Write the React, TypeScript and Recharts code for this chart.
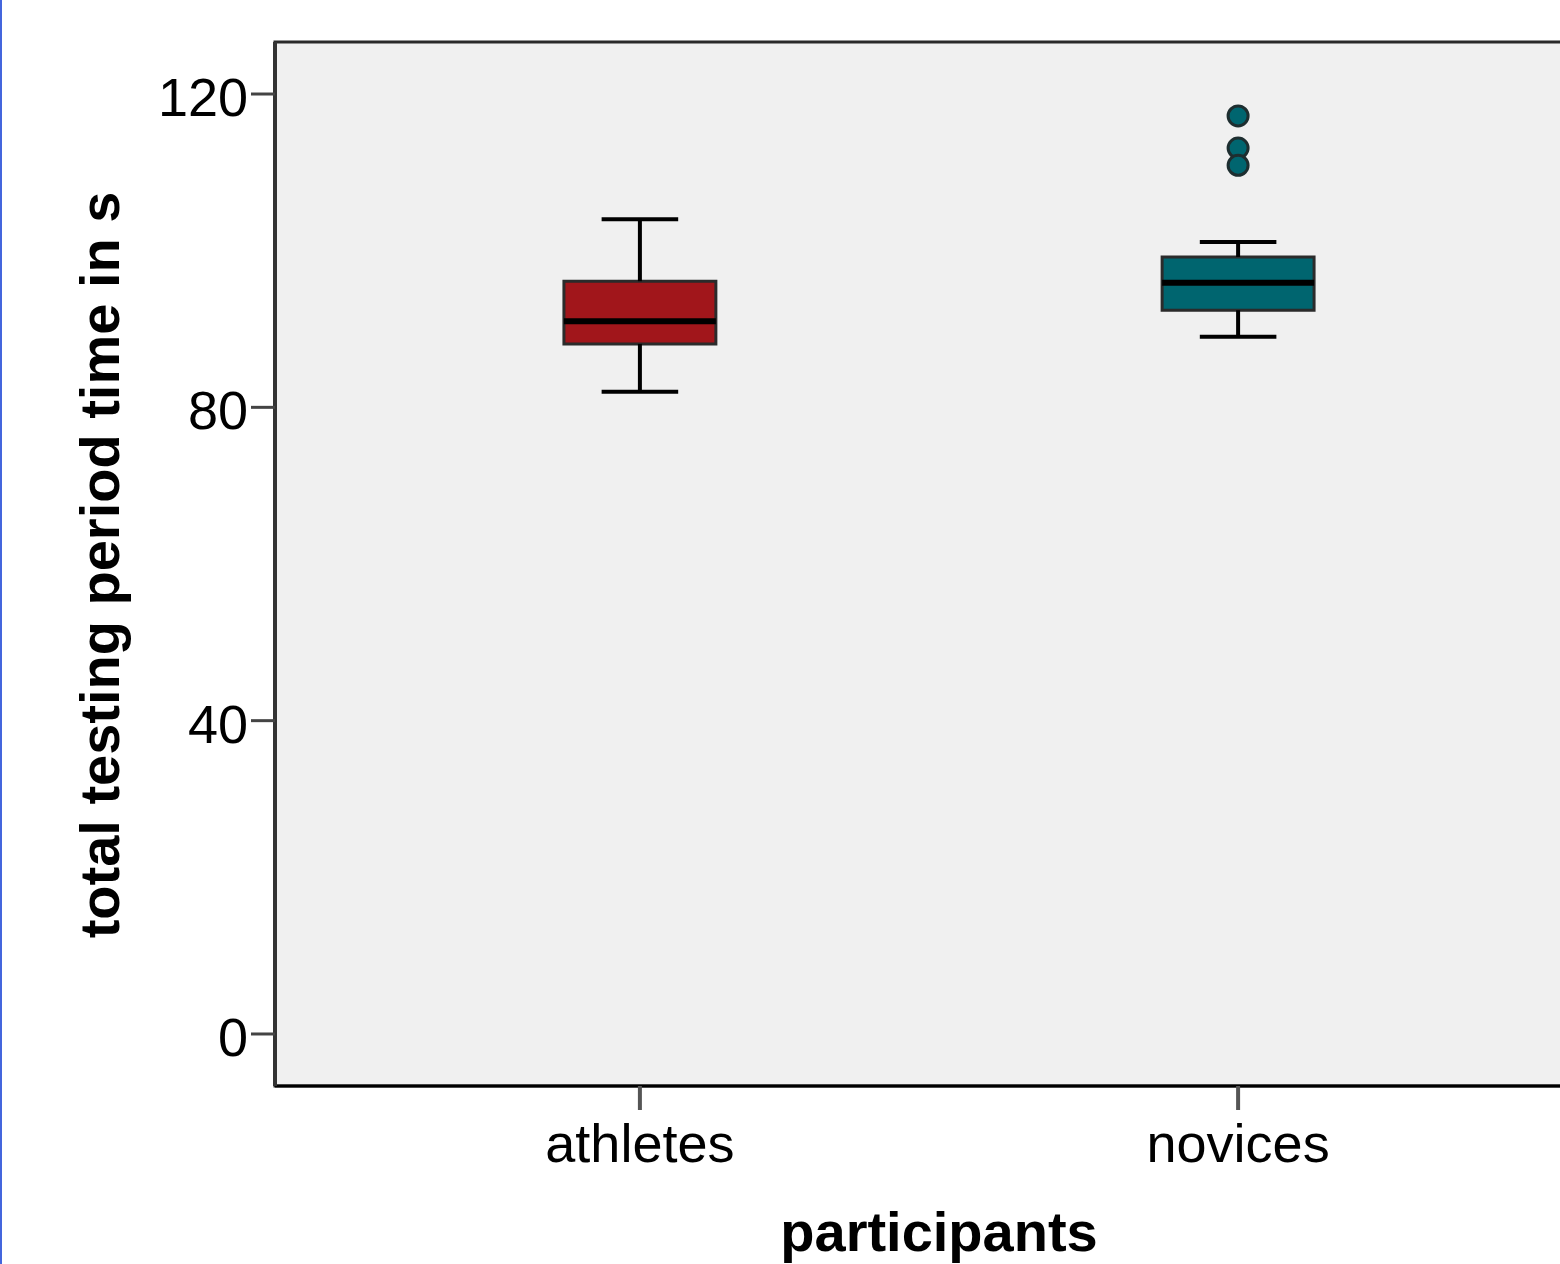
import React from 'react';
import {
  ComposedChart,
  XAxis,
  YAxis,
  Scatter,
  ReferenceArea,
  ReferenceLine,
} from 'recharts';

// ---- data ----
const categories = ['athletes', 'novices'];
const positions = [1, 2];
const whiskerLow = [82.0, 89.0];
const q1 = [88.1, 92.4];
const median = [91.0, 95.9];
const q3 = [96.1, 99.2];
const whiskerHigh = [104.0, 101.1];
const boxColors = ['#A1161B', '#00656F'];
const outlierGroup = [2, 2, 2];
const outlierValues = [117.2, 113.1, 110.9];
const yTicks = [0, 40, 80, 120];
const yDomain = [-6.64, 126.64];
const xDomain = [0.39, 2.61];

const outlierData = outlierValues.map((v, i) => ({ x: outlierGroup[i], y: v }));

const FONT = '"Liberation Sans", Arial, sans-serif';
const BOX_HALF = 0.127;
const CAP_HALF = 0.064;

const YTick = (props: any) => {
  const { x, y, payload } = props;
  return (
    <text x={x} y={y + 22} textAnchor="end" fontSize={54} fontFamily={FONT} fill="#000">
      {payload.value}
    </text>
  );
};

const XTick = (props: any) => {
  const { x, y, payload } = props;
  const idx = positions.indexOf(payload.value);
  return (
    <text x={x} y={y + 52} textAnchor="middle" fontSize={54} fontFamily={FONT} fill="#000">
      {idx >= 0 ? categories[idx] : ''}
    </text>
  );
};

export default function App() {
  return (
    <div
      style={{
        position: 'absolute',
        left: 0,
        top: 0,
        width: 1560,
        height: 1264,
        overflow: 'hidden',
        background: '#fff',
      }}
    >
      <ComposedChart
        width={1640}
        height={1264}
        data={outlierData}
        margin={{ top: 42, right: 37, left: 175, bottom: 0 }}
      >
        <XAxis
          type="number"
          dataKey="x"
          domain={xDomain}
          ticks={positions}
          allowDataOverflow
          height={178}
          axisLine={{ stroke: '#000', strokeWidth: 3 }}
          tickLine={{ stroke: '#555', strokeWidth: 4 }}
          tickSize={24}
          tickMargin={0}
          tick={<XTick />}
        />
        <YAxis
          type="number"
          dataKey="y"
          domain={yDomain}
          ticks={yTicks}
          allowDataOverflow
          width={100}
          axisLine={{ stroke: '#333', strokeWidth: 4 }}
          tickLine={{ stroke: '#444', strokeWidth: 3 }}
          tickSize={24}
          tickMargin={3}
          tick={<YTick />}
        />
        <ReferenceArea
          x1={xDomain[0]}
          x2={xDomain[1]}
          y1={yDomain[0]}
          y2={yDomain[1]}
          fill="#F0F0F0"
          fillOpacity={1}
          stroke="#2a2a2a"
          strokeWidth={3}
        />
        {positions.map((p, i) => (
          <ReferenceLine
            key={'wu' + i}
            segment={[{ x: p, y: q3[i] }, { x: p, y: whiskerHigh[i] }]}
            stroke="#000"
            strokeWidth={4}
          />
        ))}
        {positions.map((p, i) => (
          <ReferenceLine
            key={'wl' + i}
            segment={[{ x: p, y: whiskerLow[i] }, { x: p, y: q1[i] }]}
            stroke="#000"
            strokeWidth={4}
          />
        ))}
        {positions.map((p, i) => (
          <ReferenceLine
            key={'cu' + i}
            segment={[{ x: p - CAP_HALF, y: whiskerHigh[i] }, { x: p + CAP_HALF, y: whiskerHigh[i] }]}
            stroke="#000"
            strokeWidth={4}
          />
        ))}
        {positions.map((p, i) => (
          <ReferenceLine
            key={'cl' + i}
            segment={[{ x: p - CAP_HALF, y: whiskerLow[i] }, { x: p + CAP_HALF, y: whiskerLow[i] }]}
            stroke="#000"
            strokeWidth={4}
          />
        ))}
        {positions.map((p, i) => (
          <ReferenceArea
            key={'b' + i}
            x1={p - BOX_HALF}
            x2={p + BOX_HALF}
            y1={q1[i]}
            y2={q3[i]}
            fill={boxColors[i]}
            fillOpacity={1}
            stroke="#2b2b2b"
            strokeWidth={3}
          />
        ))}
        {positions.map((p, i) => (
          <ReferenceLine
            key={'m' + i}
            segment={[{ x: p - BOX_HALF, y: median[i] }, { x: p + BOX_HALF, y: median[i] }]}
            stroke="#000"
            strokeWidth={6}
          />
        ))}
        <Scatter
          data={outlierData}
          isAnimationActive={false}
          shape={(props: any) => (
            <circle
              cx={props.cx}
              cy={props.cy}
              r={10}
              fill={boxColors[1]}
              stroke="#1e2e30"
              strokeWidth={3}
            />
          )}
        />
      </ComposedChart>
      <svg
        width={1560}
        height={1264}
        style={{ position: 'absolute', left: 0, top: 0, pointerEvents: 'none' }}
      >
        <rect x={0} y={0} width={2} height={1264} fill="#4466dd" />
        <text
          transform="translate(119,565) rotate(-90)"
          textAnchor="middle"
          fontSize={56}
          fontWeight="bold"
          fontFamily={FONT}
          fill="#000"
        >
          total testing period time in s
        </text>
        <text
          x={939}
          y={1251}
          textAnchor="middle"
          fontSize={56}
          fontWeight="bold"
          fontFamily={FONT}
          fill="#000"
        >
          participants
        </text>
      </svg>
    </div>
  );
}
